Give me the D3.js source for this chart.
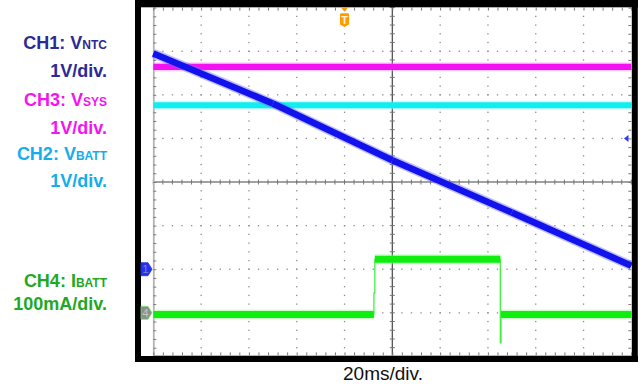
<!DOCTYPE html>
<html><head><meta charset="utf-8">
<script src="https://cdn.jsdelivr.net/npm/d3@7"></script>
<style>html,body{margin:0;padding:0;background:#fff;} svg{display:block;}</style>
</head><body><svg id="chart" width="640" height="387"></svg>
<script>
// Time base: 10 divisions of 20 ms, 8 vertical divisions, 5 minor ticks per division
const timeDomainMs = [0, 200];
const divDomain = [-4, 4];

// CH1 V_NTC (V)
const ch1TimeMs = [0, 50, 100, 150, 200];
const ch1Volts = [4.95, 3.80, 2.50, 1.30, 0.08];
// CH3 V_SYS (V)
const ch3TimeMs = [0, 200];
const ch3Volts = [4.64, 4.64];
// CH2 V_BATT (V)
const ch2TimeMs = [0, 200];
const ch2Volts = [3.76, 3.76];
// CH4 I_BATT (mA)
const ch4TimeMs = [0, 92.3, 92.3, 92.7, 92.7, 145.2, 145.2, 145.5, 145.5, 200];
const ch4mA = [-4, -4, 45, 45, 123, 123, -69, -69, -4, -4];

// Channel scale (units per division) and ground position (divisions from centre)
const channelUnitsPerDiv = { ch1: 1, ch2: 1, ch3: 1, ch4: 100 };
const channelGroundDiv = { ch1: -2, ch2: -2, ch3: -2, ch4: -3 };
const triggerTimeMs = 80;
const triggerLevelV = 3.0;

const labelLines = [
  { main: "CH1: V", sub: "NTC", color: "#2c2a96" },
  { main: "1V/div.", sub: "", color: "#2c2a96" },
  { main: "CH3: V", sub: "SYS", color: "#f414f0" },
  { main: "1V/div.", sub: "", color: "#f414f0" },
  { main: "CH2: V", sub: "BATT", color: "#14aeea" },
  { main: "1V/div.", sub: "", color: "#14aeea" },
  { main: "CH4: I", sub: "BATT", color: "#22a822" },
  { main: "100mA/div.", sub: "", color: "#22a822" }
];
const labelBaselines = [49, 77, 106, 134, 160, 187, 287, 310];
const timeBaseLabel = "20ms/div.";

const svg = d3.select("#chart");
const plot = { left: 153.3, right: 631.3, top: 7.6, bottom: 356.4 };

const x = d3.scaleLinear().domain(timeDomainMs).range([plot.left, plot.right]);
const yDiv = d3.scaleLinear().domain(divDomain).range([plot.bottom, plot.top]);
const yCh = ch => v => yDiv(v / channelUnitsPerDiv[ch] + channelGroundDiv[ch]);

// ---- graticule ----
const g = svg.append("g");
const minorX = d3.range(0, 200.001, 4);
const minorY = d3.range(-4, 4.001, 0.2);
const majorX = d3.range(20, 200, 20).filter(t => t !== 100);
const majorY = d3.range(-3, 4, 1).filter(d => d !== 0);

// dotted major lines
majorX.forEach(t => {
  g.selectAll(null).data(minorY.slice(1, -1)).enter().append("rect")
    .attr("x", x(t) - 0.6).attr("y", d => yDiv(d) - 0.6)
    .attr("width", 1.3).attr("height", 1.3).attr("fill", "#8c8c8c");
});
majorY.forEach(dv => {
  g.selectAll(null).data(minorX.slice(1, -1)).enter().append("rect")
    .attr("x", t => x(t) - 0.6).attr("y", yDiv(dv) - 0.6)
    .attr("width", 1.3).attr("height", 1.3).attr("fill", "#8c8c8c");
});

// centre cross with ticks
g.append("line").attr("x1", plot.left).attr("x2", plot.right)
  .attr("y1", yDiv(0)).attr("y2", yDiv(0)).attr("stroke", "#444").attr("stroke-width", 1.2);
g.append("line").attr("x1", x(100)).attr("x2", x(100))
  .attr("y1", plot.top).attr("y2", plot.bottom).attr("stroke", "#444").attr("stroke-width", 1.2);
g.selectAll(null).data(minorX).enter().append("line")
  .attr("x1", t => x(t)).attr("x2", t => x(t))
  .attr("y1", yDiv(0) - 2.5).attr("y2", yDiv(0) + 2.5).attr("stroke", "#777").attr("stroke-width", 1);
g.selectAll(null).data(minorY).enter().append("line")
  .attr("x1", x(100) - 2.5).attr("x2", x(100) + 2.5)
  .attr("y1", d => yDiv(d)).attr("y2", d => yDiv(d)).attr("stroke", "#777").attr("stroke-width", 1);

// edge ticks drawn with d3 axes
const edgeStyle = sel => {
  sel.selectAll(".tick line").attr("stroke", "#7a7a7a");
  sel.selectAll("text").remove();
};
const leftAxis = g.append("g").attr("transform", `translate(${plot.left},0)`)
  .call(d3.axisRight(yDiv).tickValues(minorY).tickSize(3).tickSizeOuter(0).tickFormat(""))
  .call(edgeStyle);
leftAxis.select(".domain").attr("stroke", "#b4b4b4").attr("stroke-width", 1.8);
const rightAxis = g.append("g").attr("transform", `translate(${plot.right},0)`)
  .call(d3.axisLeft(yDiv).tickValues(minorY).tickSize(3).tickSizeOuter(0).tickFormat(""))
  .call(edgeStyle);
rightAxis.select(".domain").attr("stroke", "none");
const topAxis = g.append("g").attr("transform", `translate(0,${plot.top})`)
  .call(d3.axisBottom(x).tickValues(minorX).tickSize(3).tickSizeOuter(0).tickFormat(""))
  .call(edgeStyle);
topAxis.select(".domain").attr("stroke", "none");
const bottomAxis = g.append("g").attr("transform", `translate(0,${plot.bottom - 1})`)
  .call(d3.axisTop(x).tickValues(minorX).tickSize(3).tickSizeOuter(0).tickFormat(""))
  .call(edgeStyle);
bottomAxis.select(".domain").attr("stroke", "#9a9a9a").attr("stroke-width", 1.2);

// ---- traces ----
const traces = svg.append("g");
function drawTrace(times, values, ch, core, halo, band) {
  const pts = times.map((t, i) => [x(t), yCh(ch)(values[i])]);
  const line = d3.line();
  // thin connecting path (edges)
  traces.append("path").attr("d", line(pts)).attr("fill", "none")
    .attr("stroke", core).attr("stroke-width", 1.3).attr("opacity", 0.8);
  // thick bands along level / sloped runs
  for (let i = 0; i < pts.length - 1; i++) {
    if (times[i + 1] - times[i] < 2) continue;
    const seg = [pts[i], pts[i + 1]];
    traces.append("path").attr("d", line(seg)).attr("fill", "none")
      .attr("stroke", halo).attr("stroke-width", band + 3).attr("opacity", 0.45);
    traces.append("path").attr("d", line(seg)).attr("fill", "none")
      .attr("stroke", core).attr("stroke-width", band);
  }
}
drawTrace(ch4TimeMs, ch4mA, "ch4", "#10ee10", "#8ff78f", 7);
drawTrace(ch2TimeMs, ch2Volts, "ch2", "#10eef0", "#8ff5f7", 6.2);
drawTrace(ch3TimeMs, ch3Volts, "ch3", "#f410f0", "#f79af5", 6.2);
drawTrace(ch1TimeMs, ch1Volts, "ch1", "#1212ec", "#6e6ef5", 6.5);

// ---- frame ----
const frame = svg.append("g").attr("fill", "#000");
frame.append("rect").attr("x", 135).attr("y", 0).attr("width", 503).attr("height", 7.3);
frame.append("rect").attr("x", 135).attr("y", 0).attr("width", 6).attr("height", 362);
frame.append("rect").attr("x", 631.8).attr("y", 0).attr("width", 6).attr("height", 362);
frame.append("rect").attr("x", 135).attr("y", 356).attr("width", 503).attr("height", 6);

// ---- channel markers ----
function groundMarker(ch, label, fill, textColor, stroke) {
  const yc = yCh(ch)(0);
  const m = svg.append("g");
  m.append("path")
    .attr("d", `M141,${yc - 6.5} L148,${yc - 6.5} L152,${yc} L148,${yc + 6.5} L141,${yc + 6.5} Z`)
    .attr("fill", fill).attr("stroke", stroke).attr("stroke-width", 0.8);
  m.append("text").attr("x", 145.5).attr("y", yc + 4.2).attr("text-anchor", "middle")
    .attr("font-family", "Liberation Sans, Arial, sans-serif").attr("font-size", 11.5)
    .attr("fill", textColor).text(label);
}
groundMarker("ch1", "1", "#2233ee", "#7b86c8", "#2233ee");
groundMarker("ch4", "4", "#8a8f8a", "#c4c8c4", "#7fe07f");

// trigger level marker (right edge)
const yt = yCh("ch1")(triggerLevelV);
svg.append("path").attr("d", `M624,${yt} L628.5,${yt - 3.5} L628.5,${yt + 3.5} Z`).attr("fill", "#2a3af0");

// trigger position marker (top)
const xt = x(triggerTimeMs);
const trig = svg.append("g");
trig.append("path").attr("d", `M${xt - 3.8},7.3 L${xt + 3.8},7.3 L${xt},11.8 Z`).attr("fill", "#ff9a00");
trig.append("path")
  .attr("d", `M${xt - 4.5},14.5 Q${xt - 4.5},13.3 ${xt - 3.3},13.3 L${xt + 3.3},13.3 Q${xt + 4.5},13.3 ${xt + 4.5},14.5 L${xt + 4.5},24.5 L${xt},27 L${xt - 4.5},24.5 Z`)
  .attr("fill", "#ff9a00");
trig.append("text").attr("x", xt).attr("y", 23.5).attr("text-anchor", "middle")
  .attr("font-family", "Liberation Sans, Arial, sans-serif").attr("font-weight", "bold")
  .attr("font-size", 11).attr("fill", "#fff2dc").text("T");

// ---- channel labels ----
const labels = svg.append("g")
  .attr("font-family", "Liberation Sans, Arial, Helvetica, sans-serif")
  .attr("font-weight", "bold").attr("text-anchor", "end");
labelLines.forEach((d, i) => {
  const t = labels.append("text").attr("x", 107).attr("y", labelBaselines[i])
    .attr("fill", d.color).attr("font-size", 18);
  t.append("tspan").text(d.main);
  if (d.sub) t.append("tspan").attr("font-size", 12).text(d.sub);
});

svg.append("text").attr("x", 383).attr("y", 380).attr("text-anchor", "middle")
  .attr("font-family", "Liberation Sans, Arial, Helvetica, sans-serif")
  .attr("font-size", 19).attr("fill", "#111").text(timeBaseLabel);
</script>
</body></html>
